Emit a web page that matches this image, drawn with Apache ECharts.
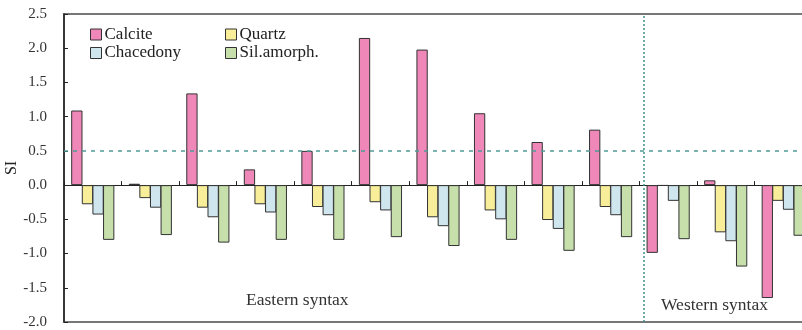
<!DOCTYPE html>
<html>
<head>
<meta charset="utf-8">
<script src="https://cdn.jsdelivr.net/npm/echarts@6/dist/echarts.min.js"></script>
<style>
  html, body { margin: 0; padding: 0; background: #fff; }
  #chart { width: 802px; height: 330px; }
</style>
</head>
<body>
<div id="chart"></div>
<script>
// samples (no labels shown on the axis)
const samples = ["1", "2", "3", "4", "5", "6", "7", "8", "9", "10", "11", "12", "13"];
// saturation index per mineral
const calcite = [1.09, 0.02, 1.34, 0.23, 0.50, 2.15, 1.98, 1.05, 0.63, 0.81, -0.99, 0.07, -1.65];
const quartz = [-0.28, -0.19, -0.33, -0.28, -0.32, -0.25, -0.47, -0.37, -0.51, -0.32, -0.01, -0.69, -0.23];
const chacedony = [-0.43, -0.33, -0.47, -0.40, -0.44, -0.37, -0.60, -0.50, -0.64, -0.44, -0.23, -0.82, -0.36];
const silAmorph = [-0.80, -0.73, -0.84, -0.80, -0.80, -0.76, -0.89, -0.80, -0.96, -0.76, -0.79, -1.19, -0.74];
const refLevel = 0.5;      // dashed horizontal line
const regionSplit = 10.08; // eastern / western boundary (in category units)

const serif = "Liberation Serif";
const colors = ["#ef88b8", "#f8ee9a", "#cfe6ee", "#c6dfab"];

function bar(name, data, i) {
  return {
    name: name,
    type: "bar",
    data: data,
    barGap: "-6%",
    barCategoryGap: "25%",
    z: 3,
    itemStyle: { color: colors[i], borderColor: "#333", borderWidth: 1 },
  };
}

const legendBase = {
  orient: "vertical",
  top: 26,
  padding: 0,
  itemWidth: 11,
  itemHeight: 11,
  itemGap: 1.5,
  icon: "rect",
  itemStyle: { borderColor: "#333", borderWidth: 1 },
  textStyle: { fontFamily: serif, fontSize: 17, color: "#222", lineHeight: 17, padding: [0, 0, 0, -2] },
};

const myChart = echarts.init(document.getElementById("chart"));
myChart.setOption({
  animation: false,
  textStyle: { fontFamily: serif },
  legend: [
    Object.assign({}, legendBase, { left: 90, data: ["Calcite", "Chacedony"] }),
    Object.assign({}, legendBase, { left: 225, data: ["Quartz", "Sil.amorph."] }),
  ],
  grid: {
    left: 64,
    right: -10,
    top: 14,
    bottom: 8,
    outerBoundsMode: "none",
    containLabel: false,
    show: true,
    borderColor: "#777",
    borderWidth: 2,
  },
  xAxis: [
    {
      type: "category",
      data: samples,
      axisLine: { onZero: true, lineStyle: { color: "#222", width: 1 } },
      axisTick: { show: true, inside: true, length: 4, lineStyle: { color: "#222" } },
      axisLabel: { show: false },
      splitLine: { show: false },
    },
    {
      // helper axis for the region boundary
      type: "value",
      min: 0,
      max: samples.length,
      show: false,
    },
  ],
  yAxis: {
    type: "value",
    min: -2,
    max: 2.5,
    interval: 0.5,
    name: "SI",
    nameLocation: "middle",
    nameGap: 44,
    nameMoveOverlap: false,
    nameTextStyle: { fontFamily: serif, fontSize: 16, color: "#222" },
    axisLine: { show: true, lineStyle: { color: "#222", width: 1.5 } },
    axisTick: { show: true, inside: true, length: 4, lineStyle: { color: "#222" } },
    axisLabel: {
      fontFamily: serif,
      fontSize: 15,
      color: "#333",
      margin: 17,
      padding: [6, 0, 0, 0],
      formatter: (v) => v.toFixed(1),
    },
    splitLine: { show: false },
  },
  series: [
    bar("Calcite", calcite, 0),
    bar("Quartz", quartz, 1),
    bar("Chacedony", chacedony, 2),
    bar("Sil.amorph.", silAmorph, 3),
    {
      type: "line",
      xAxisIndex: 1,
      data: [],
      z: 1,
      silent: true,
      markLine: {
        symbol: "none",
        silent: true,
        label: { show: false },
        lineStyle: { color: "#4f9a96", type: [4, 5], width: 1.5 },
        data: [
          { yAxis: refLevel },
          { xAxis: regionSplit, lineStyle: { color: "#3f8f8c", type: [2, 2], width: 1.5 } },
        ],
      },
    },
  ],
  graphic: [
    {
      type: "text",
      left: 246,
      top: 291,
      style: { text: "Eastern syntax", font: "17.5px 'Liberation Serif'", fill: "#333" },
    },
    {
      type: "text",
      left: 661,
      top: 296,
      style: { text: "Western syntax", font: "17.5px 'Liberation Serif'", fill: "#333" },
    },
  ],
});
</script>
</body>
</html>
